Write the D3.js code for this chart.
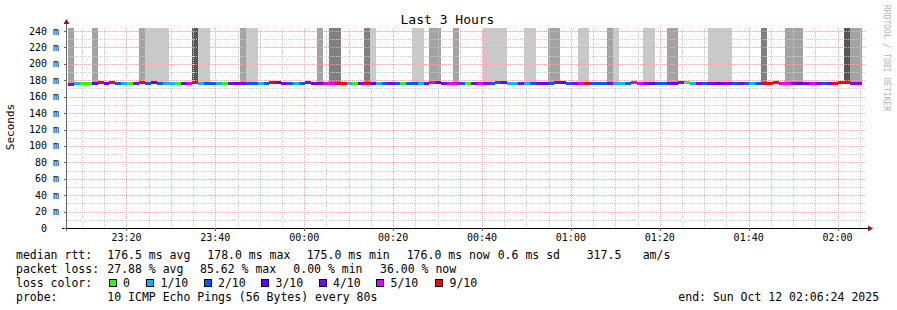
<!DOCTYPE html>
<html><head><meta charset="utf-8">
<script src="https://cdn.jsdelivr.net/npm/d3@7"></script>
<style>
html,body{margin:0;padding:0;background:#fff;}
text{font-family:"DejaVu Sans Mono",monospace;}
</style></head>
<body><div id="chart"></div>
<script>
// ---------- DATA ----------
const title = "Last 3 Hours";
const rangeStart = new Date(2025, 9, 11, 23, 6, 24);
const rangeEnd = new Date(2025, 9, 12, 2, 6, 24);
const firstStep = new Date(2025, 9, 11, 23, 6, 51);
const stepSeconds = 80;

// median RTT per step (ms)
const median = [
174.8,176.5,176.6,176.6,176.3,177.6,176.2,177.2,176.5,176.6,
176.5,176.6,177.6,176.3,176.8,176.5,176.6,176.6,176.6,176.4,
176.6,177.3,176.2,176.2,176.3,176.3,176.6,176.6,176.5,176.6,
176.5,176.1,176.2,176.3,176.9,177.4,175.5,176.4,176.4,176.5,
176.8,176.6,176.6,176.6,176.5,176.4,176.0,176.4,176.6,176.6,
176.5,176.4,176.6,176.2,176.6,176.3,176.6,176.3,176.3,176.6,
176.6,176.7,176.8,176.4,176.6,176.6,176.3,176.6,176.6,176.5,
176.6,176.6,176.8,177.5,176.6,176.6,176.4,176.6,176.6,176.5,
176.6,176.6,177.1,176.9,176.6,176.6,176.4,176.6,176.6,176.6,
176.5,176.2,176.6,176.6,176.2,176.8,175.8,176.6,176.6,176.4,
176.4,175.6,176.6,177.4,177.3,176.6,176.3,176.5,176.4,176.4,
176.4,176.4,176.4,176.5,176.5,176.6,176.4,176.0,176.2,177.5,
176.6,176.6,176.1,176.2,176.3,176.6,176.5,176.5,176.6,176.4,
176.7,177.0,176.6,176.0
];
// lowest ping per step (ms)
const rttLow = [
174.2,174.6,175.4,175.2,174.8,176.0,175.0,175.9,175.2,174.6,
175.2,175.4,176.2,174.8,175.3,175.0,174.6,174.7,175.2,175.1,
175.6,176.0,174.6,174.8,174.8,174.5,174.9,175.3,175.0,175.2,
174.8,174.5,174.6,174.8,175.6,175.8,174.3,175.0,174.9,175.2,
175.5,175.0,175.3,175.4,175.2,174.9,174.4,174.6,175.2,175.4,
175.3,174.6,175.1,174.6,175.2,174.8,175.3,174.6,174.5,175.0,
175.2,175.4,175.5,174.9,175.2,175.0,174.6,175.1,175.2,174.8,
175.0,174.5,175.3,175.8,174.9,175.0,174.6,175.2,174.8,175.0,
175.2,174.6,175.7,175.3,174.9,175.2,174.6,175.3,175.0,175.1,
175.1,174.8,174.8,175.2,174.6,175.4,174.4,175.2,175.0,174.7,
174.9,174.2,175.0,175.9,176.0,175.0,174.8,175.1,174.9,175.0,
174.8,174.8,174.9,175.0,174.9,175.1,174.8,174.5,174.8,176.2,
175.2,175.4,174.6,174.7,174.6,175.1,175.0,174.8,175.1,174.9,
175.3,175.6,174.8,174.4
];
// lost pings per step (of 10)
const loss = [
4,1,0,0,3,9,3,9,2,1, 0,4,9,2,3,2,1,1,0,4,
5,9,1,2,2,1,0,4,3,4, 2,2,1,2,9,3,4,2,1,2,
4,3,4,5,5,9,9,1,0,4, 9,3,1,2,4,2,0,2,2,1,
4,5,3,4,5,5,2,0,4,5, 4,2,2,3,1,1,4,1,2,4,
3,2,4,3,2,4,5,9,2,2, 2,4,1,1,2,5,5,4,3,2,
2,4,3,4,0,1,4,2,4,3, 4,4,2,4,2,1,2,9,9,9,
5,5,4,3,4,5,4,2,4,9, 9,9,4,4
];
// number of pings far above the visible range per step (smoke density)
const highPings = [
2,0,0,0,2,0,0,0,0,0, 0,0,2,1,1,1,1,0,0,0,
0,4,1,1,0,0,0,0,0,2, 1,1,0,0,0,0,0,0,0,0,
0,0,2,0,3,3,0,0,0,0, 3,1,0,0,0,0,0,0,1,1,
0,2,2,0,0,2,0,0,0,0, 1,1,1,1,0,0,0,1,1,0,
0,2,2,0,0,0,1,1,0,0, 0,2,1,0,0,0,0,1,1,0,
0,2,2,0,0,0,0,0,1,1, 1,1,0,0,0,0,0,3,0,0,
0,2,2,2,0,0,0,0,0,0, 0,4,2,2
];

const lossLevels = [0, 1, 2, 3, 4, 5, 9];
const lossLabels = ["0", "1/10", "2/10", "3/10", "4/10", "5/10", "9/10"];
const lossColors = ["#26ff00", "#00b8ff", "#0059ff", "#5e00ff", "#7e00ff", "#dd00ff", "#ff0000"];

const yTicks = [0, 20, 40, 60, 80, 100, 120, 140, 160, 180, 200, 220, 240];
const yTickLabels = ["0", "20 m", "40 m", "60 m", "80 m", "100 m", "120 m", "140 m", "160 m", "180 m", "200 m", "220 m", "240 m"];
const yMax = 243.66;

const medianStats = ["176.5 ms avg", "178.0 ms max", "175.0 ms min", "176.0 ms now", "0.6 ms sd", "317.5", "am/s"];
const lossStats = ["27.88 % avg", "85.62 % max", "0.00 % min", "36.00 % now"];
const probeText = "10 ICMP Echo Pings (56 Bytes) every 80s";
const endText = "end: Sun Oct 12 02:06:24 2025";

// ---------- DRAW ----------
const W = 897, H = 310;
const L = 66, R = 866, T = 28, B = 228;
const svg = d3.select("#chart").append("svg").attr("width", W).attr("height", H)
  .attr("shape-rendering", "crispEdges");
svg.append("rect").attr("width", W).attr("height", H).attr("fill", "#fff");

const x = d3.scaleTime().domain([rangeStart, rangeEnd]).range([L, R]);
const y = d3.scaleLinear().domain([0, yMax]).range([B, T]);

const steps = median.map((m, i) => ({
  i, m, low: rttLow[i], loss: loss[i], high: highPings[i],
  t0: new Date(+firstStep + i * stepSeconds * 1000),
  t1: new Date(+firstStep + (i + 1) * stepSeconds * 1000)
}));

const shade = d3.scaleOrdinal().domain([1, 2, 3, 4]).range(["#c9c9c9", "#a3a3a3", "#808080", "#555555"]);
function lossColor(l) {
  let idx = 0;
  lossLevels.forEach((lv, j) => { if (l >= lv) idx = j; });
  return lossColors[idx];
}

// smoke: pings far above
svg.append("g").selectAll("rect").data(steps.filter(d => d.high > 0)).join("rect")
  .attr("x", d => x(d.t0)).attr("width", d => x(d.t1) - x(d.t0))
  .attr("y", T).attr("height", d => y(d.m) - T)
  .attr("fill", d => shade(d.high));
// smoke: low pings near median
svg.append("g").selectAll("rect").data(steps).join("rect")
  .attr("x", d => x(d.t0)).attr("width", d => x(d.t1) - x(d.t0))
  .attr("y", d => y(d.m)).attr("height", d => Math.max(0, y(d.low) - y(d.m)))
  .attr("fill", "#b8b8b8");

// grid
const grid = svg.append("g");
const minorY = d3.range(10, yMax, 20);
const minorCol = "#cdcdcd", majorCol = "#f3a8a8";
grid.selectAll(".my").data(minorY).join("line")
  .attr("x1", L).attr("x2", R).attr("y1", d => Math.round(y(d)) + 0.5).attr("y2", d => Math.round(y(d)) + 0.5)
  .attr("stroke", minorCol).attr("stroke-dasharray", "1,1");
const minorX = x.ticks(d3.timeMinute.every(5)).filter(t => t.getMinutes() % 20 !== 0);
grid.selectAll(".mx").data(minorX).join("line")
  .attr("y1", T).attr("y2", B).attr("x1", d => Math.round(x(d)) + 0.5).attr("x2", d => Math.round(x(d)) + 0.5)
  .attr("stroke", minorCol).attr("stroke-dasharray", "1,1");
grid.selectAll(".My").data(yTicks.filter(v => v > 0)).join("line")
  .attr("x1", L).attr("x2", R).attr("y1", d => Math.round(y(d)) + 0.5).attr("y2", d => Math.round(y(d)) + 0.5)
  .attr("stroke", majorCol).attr("stroke-dasharray", "1,1");
const majorX = x.ticks(d3.timeMinute.every(20));
grid.selectAll(".Mx").data(majorX).join("line")
  .attr("y1", T).attr("y2", B).attr("x1", d => Math.round(x(d)) + 0.5).attr("x2", d => Math.round(x(d)) + 0.5)
  .attr("stroke", majorCol).attr("stroke-dasharray", "1,1");

// median line
svg.append("g").selectAll("line").data(steps).join("line")
  .attr("x1", d => x(d.t0)).attr("x2", d => x(d.t1))
  .attr("y1", d => y(d.m)).attr("y2", d => y(d.m))
  .attr("stroke", d => lossColor(d.loss)).attr("stroke-width", 3);

// axes
const ax = svg.append("g");
ax.append("line").attr("x1", 62).attr("x2", 868).attr("y1", B + 0.5).attr("y2", B + 0.5).attr("stroke", "#000");
ax.append("path").attr("d", `M868,${B - 2.5}L873,${B + 0.5}L868,${B + 3.5}Z`).attr("fill", "#8b1a1a").attr("shape-rendering", "auto");
ax.append("line").attr("x1", L + 0.5).attr("x2", L + 0.5).attr("y1", B + 3).attr("y2", 24).attr("stroke", "#666");
ax.append("path").attr("d", `M${L - 2.5},24L${L + 0.5},19L${L + 3.5},24Z`).attr("fill", "#8b1a1a").attr("shape-rendering", "auto");
ax.selectAll(".yt").data(yTicks).join("line")
  .attr("x1", L - 2).attr("x2", L).attr("y1", d => Math.round(y(d)) + 0.5).attr("y2", d => Math.round(y(d)) + 0.5)
  .attr("stroke", "#666");
ax.selectAll(".xt").data(majorX).join("line")
  .attr("y1", B).attr("y2", B + 3).attr("x1", d => Math.round(x(d)) + 0.5).attr("x2", d => Math.round(x(d)) + 0.5)
  .attr("stroke", "#666");

const fmt = d3.timeFormat("%H:%M");
ax.selectAll(".xl").data(majorX).join("text")
  .attr("x", d => x(d)).attr("y", 240.5).attr("text-anchor", "middle")
  .attr("font-size", "10px").attr("fill", "#000").text(d => fmt(d));
ax.selectAll(".yl").data(yTicks).join("text")
  .attr("x", (d, i) => i === 0 ? 47 : 59).attr("y", d => y(d) + 3.5).attr("text-anchor", "end")
  .attr("font-size", "10px").attr("fill", "#000").text((d, i) => yTickLabels[i]);

svg.append("text").attr("transform", "translate(14,127) rotate(-90)").attr("text-anchor", "middle")
  .attr("font-size", "11px").attr("fill", "#000").text("Seconds");
svg.append("text").attr("x", 447.5).attr("y", 24).attr("text-anchor", "middle")
  .attr("font-size", "13px").attr("fill", "#000").text(title);
svg.append("text").attr("transform", "translate(884,5) rotate(90)")
  .attr("font-size", "8px").attr("fill", "#b4b4b4").text("RRDTOOL / TOBI OETIKER");

// legend
const lg = svg.append("g").attr("font-size", "11.5px").attr("fill", "#000");
const row1 = [16, 107.3, 207.3, 306.7, 406.7, 497.7, 586.7, 642.7];
["median rtt:"].concat(medianStats).forEach((s, i) => lg.append("text").attr("x", row1[i]).attr("y", 258.5).text(s));
const row2 = [16, 107.3, 200, 293.3, 380];
["packet loss:"].concat(lossStats).forEach((s, i) => lg.append("text").attr("x", row2[i]).attr("y", 272.5).text(s));
lg.append("text").attr("x", 16).attr("y", 286.5).text("loss color:");
const swX = [108.5, 146, 203.5, 261, 318.5, 376, 435];
lossLabels.forEach((lab, i) => {
  lg.append("rect").attr("x", swX[i] + 0.5).attr("y", 279.5).attr("width", 7).attr("height", 7)
    .attr("fill", lossColors[i]).attr("stroke", "#000");
  lg.append("text").attr("x", swX[i] + 14.5).attr("y", 286.5).text(lab);
});
lg.append("text").attr("x", 16).attr("y", 300.5).text("probe:");
lg.append("text").attr("x", 107.3).attr("y", 300.5).text(probeText);
lg.append("text").attr("x", 678.3).attr("y", 300.5).text(endText);
</script>
</body></html>
